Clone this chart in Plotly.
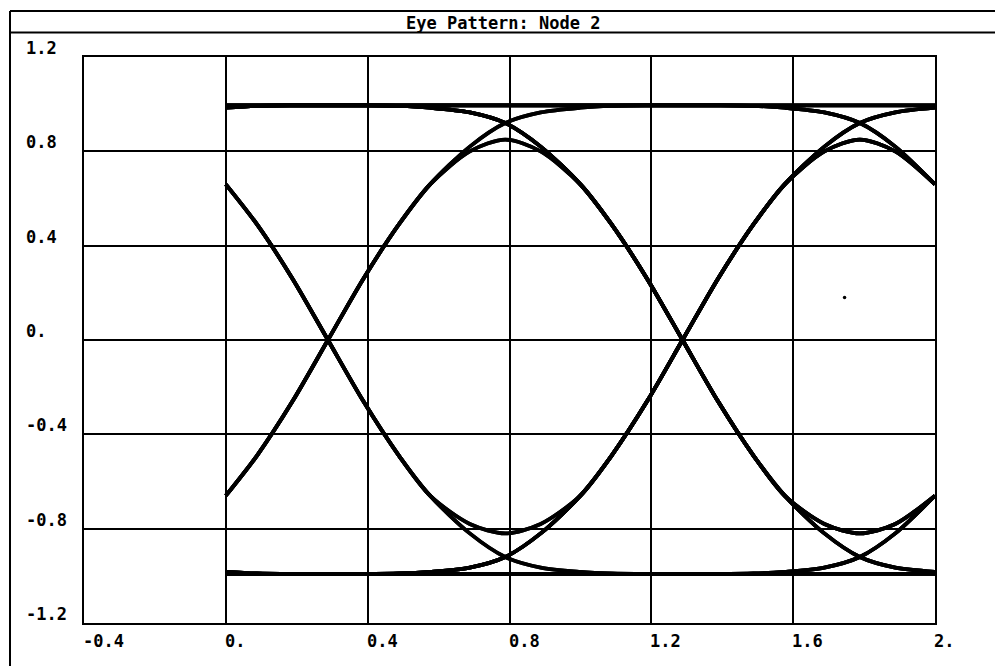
import itertools
import plotly.graph_objects as go

# Offsets inside one bit interval, measured from one zero crossing to the next.
# 0.288 and 0.712 are where the 0..2 display window cuts the neighbouring bits.
bit_offsets = [0.0, 0.1, 0.2, 0.288, 0.4, 0.5, 0.6, 0.712, 0.8, 0.9, 1.0]

# Waveform of a high bit entered by a rising edge and followed by another high bit
rise_settle_high = [0.0, 0.26, 0.49, 0.66, 0.82, 0.92, 0.965, 0.985, 0.993, 0.995, 0.995]
# Isolated high bit: rising edge, then falling edge
pulse_high = [0.0, 0.26, 0.49, 0.66, 0.80, 0.85, 0.80, 0.66, 0.49, 0.26, 0.0]
# High bit between two high bits
steady_high = [0.995, 0.995, 0.995, 0.995, 0.995, 0.995, 0.995, 0.995, 0.995, 0.995, 0.995]

# Same three cases for a low bit
rise_settle_low = [0.0, -0.26, -0.49, -0.66, -0.82, -0.92, -0.965, -0.983, -0.99, -0.992, -0.992]
pulse_low = [0.0, -0.26, -0.49, -0.66, -0.78, -0.82, -0.78, -0.66, -0.49, -0.26, 0.0]
steady_low = [-0.992, -0.992, -0.992, -0.992, -0.992, -0.992, -0.992, -0.992, -0.992, -0.992, -0.992]

first_crossing = 0.288   # time of the first data transition in the window
bit_period = 1.0
window_start, window_end = 0.0, 2.0

# Isolated sample point left on the display
stray_x = [1.745]
stray_y = [0.18]

x_tick_vals = [-0.4, 0.0, 0.4, 0.8, 1.2, 1.6, 2.0]
x_tick_text = ["-0.4", "0.", "0.4", "0.8", "1.2", "1.6", "2."]
y_tick_vals = [1.2, 0.8, 0.4, 0.0, -0.4, -0.8, -1.2]
y_tick_text = ["1.2", "0.8", "0.4", "0.", "-0.4", "-0.8", "-1.2"]

title_text = "Eye Pattern: Node 2"

# ---- page geometry (pixels) ----
W, H = 995, 666
ML, MR, MT, MB = 84, 60, 57, 43
PW, PH = W - ML - MR, H - MT - MB


def px_x(px):
    return (px - ML) / PW


def px_y(py):
    return (H - MB - py) / PH


def bit_shape(prev, bit, nxt):
    """Waveform over one bit interval given its neighbours."""
    if bit == 1:
        rs, pulse, steady = rise_settle_high, pulse_high, steady_high
    else:
        rs, pulse, steady = rise_settle_low, pulse_low, steady_low
    if prev != bit and nxt != bit:
        return pulse
    if prev != bit:
        return rs
    if nxt != bit:
        return rs[::-1]
    return steady


def trace_points(bits):
    z, a, b, c, d = bits
    segments = [
        (first_crossing - bit_period, bit_shape(z, a, b)),
        (first_crossing, bit_shape(a, b, c)),
        (first_crossing + bit_period, bit_shape(b, c, d)),
    ]
    xs, ys = [], []
    for start, vals in segments:
        for off, v in zip(bit_offsets, vals):
            x = round(start + off * bit_period, 6)
            if x < window_start - 1e-6 or x > window_end + 1e-6:
                continue
            if xs and abs(xs[-1] - x) < 1e-6:
                continue
            xs.append(x)
            ys.append(v)
    return tuple(xs), tuple(ys)


fig = go.Figure()

seen = set()
for bits in itertools.product([0, 1], repeat=5):
    pts = trace_points(bits)
    if pts in seen:
        continue
    seen.add(pts)
    fig.add_trace(go.Scatter(
        x=list(pts[0]), y=list(pts[1]), mode="lines",
        line=dict(color="black", width=3.8, shape="spline", smoothing=0.8),
        hoverinfo="skip", showlegend=False,
    ))

fig.add_trace(go.Scatter(
    x=stray_x, y=stray_y, mode="markers",
    marker=dict(color="black", size=3.5), showlegend=False, hoverinfo="skip",
))

label_font = dict(family="DejaVu Sans Mono", size=17, color="black", weight="bold")

annotations = []
for v, t in zip(x_tick_vals, x_tick_text):
    annotations.append(dict(
        x=v, xref="x", y=0, yref="paper", text=t, showarrow=False,
        xanchor="left", yanchor="top", yshift=-6, xshift=-3, font=label_font,
    ))
for v, t in zip(y_tick_vals, y_tick_text):
    annotations.append(dict(
        x=px_x(24), xref="paper", y=v, yref="y", text=t, showarrow=False,
        xanchor="left", yanchor="bottom", yshift=-3, font=label_font,
    ))
annotations.append(dict(
    x=px_x(503), xref="paper", y=px_y(23), yref="paper", text=title_text,
    showarrow=False, xanchor="center", yanchor="middle", font=label_font,
))

frame = dict(color="black", width=2)
shapes = [
    dict(type="line", xref="paper", yref="paper",
         x0=px_x(10), x1=px_x(1000), y0=px_y(11), y1=px_y(11), line=frame),
    dict(type="line", xref="paper", yref="paper",
         x0=px_x(10), x1=px_x(1000), y0=px_y(32.5), y1=px_y(32.5), line=frame),
    dict(type="line", xref="paper", yref="paper",
         x0=px_x(10), x1=px_x(10), y0=px_y(11), y1=px_y(670), line=frame),
]

fig.update_layout(
    width=W, height=H,
    margin=dict(l=ML, r=MR, t=MT, b=MB, pad=0),
    paper_bgcolor="white", plot_bgcolor="white",
    annotations=annotations, shapes=shapes,
    showlegend=False,
)
axis_common = dict(
    showgrid=True, gridcolor="black", gridwidth=1.8,
    zeroline=False, showline=True, linecolor="black", linewidth=2.2,
    mirror=True, ticks="", showticklabels=False, fixedrange=True,
)
fig.update_xaxes(range=[-0.4, 2.0], tickvals=x_tick_vals, **axis_common)
fig.update_yaxes(range=[-1.2, 1.2], tickvals=y_tick_vals, **axis_common)

fig.write_html("out.html")
